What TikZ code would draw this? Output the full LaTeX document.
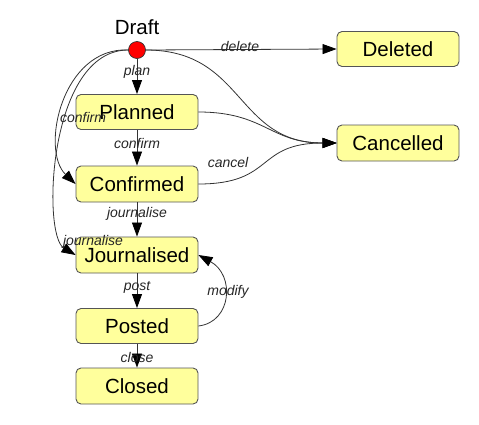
\documentclass[tikz,border=0pt]{standalone}
\usepackage{fontspec}
\setmainfont{Liberation Sans}
\usetikzlibrary{arrows.meta}
\definecolor{boxfill}{HTML}{FFFF9C}
\definecolor{boxline}{HTML}{555555}
\definecolor{edgeline}{HTML}{333333}
\tikzset{
  state/.style={rectangle, rounded corners=5pt, draw=boxline, line width=0.9pt, fill=boxfill,
    minimum width=122pt, minimum height=35pt, inner sep=0pt,
    font=\fontsize{20.5}{24}\selectfont},
  edge/.style={draw=edgeline, line width=0.8pt, -{Triangle[length=14pt,width=10pt,color=black,fill=black]}},
  lbl/.style={font=\fontsize{14}{16}\itshape\selectfont, text=black!85, inner sep=0pt},
}
\begin{document}
\begin{tikzpicture}[x=1pt,y=-1pt]
\useasboundingbox (0,0) rectangle (479,424);
\node[circle, draw=black!80, fill=red, minimum size=17pt, inner sep=0pt, line width=0.7pt] (draft) at (137,50) {};
\node[font=\fontsize{20.5}{24}\selectfont, inner sep=0pt] (draftlbl) at (137,27) {Draft};
\node[state] (planned) at (137,112) {Planned};
\node[state, minimum height=36pt] (confirmed) at (137,184) {Confirmed};
\node[state, minimum height=36pt] (journalised) at (137,255) {Journalised};
\node[state] (posted) at (137,326) {Posted};
\node[state, minimum height=36pt] (closed) at (137,386) {Closed};
\node[state] (deleted) at (398,49) {Deleted};
\node[state, minimum height=36pt] (cancelled) at (398,143) {Cancelled};

% vertical chain
\draw[edge] (draft) -- (planned);
\draw[edge] (planned) -- (confirmed);
\draw[edge] (confirmed) -- (journalised);
\draw[edge] (journalised) -- (posted);
\draw[edge] (posted) -- (closed);
\node[lbl] (lplan) at (137,72) {plan};
\node[lbl] (lconfirm) at (137,143) {confirm};
\node[lbl] (ljournal) at (137,214) {journalise};
\node[lbl] (lpost) at (137,287) {post};
\node[lbl] (lclose) at (137,357) {close};

% delete
\draw[edge] (draft.east) -- (deleted.west);
\node[lbl] (ldelete) at (240,46) {delete};

% cancellations
\draw[edge] (draft.east) .. controls (245,50) and (235,143) .. (cancelled.west);
\draw[edge] (planned.east) .. controls (265,112) and (270,143) .. (cancelled.west);
\draw[edge] (confirmed.east) .. controls (275,184) and (255,143) .. (cancelled.west);
\node[lbl] (lcancel) at (228,162) {cancel};

% left curves
\draw[edge] (draft.west) .. controls (62,47) and (40,150) .. (confirmed.west);
\draw[edge] (draft.west) .. controls (48,50) and (42,235) .. (journalised.west);
\node[lbl] (lconfirm2) at (83,117) {confirm};
\node[lbl] (ljournal2) at (93,242) {journalise};

% modify
\draw[edge] (posted.east) .. controls (232,322) and (235,275) .. (journalised.east);
\node[lbl] (lmodify) at (228,292) {modify};
\end{tikzpicture}
\end{document}
